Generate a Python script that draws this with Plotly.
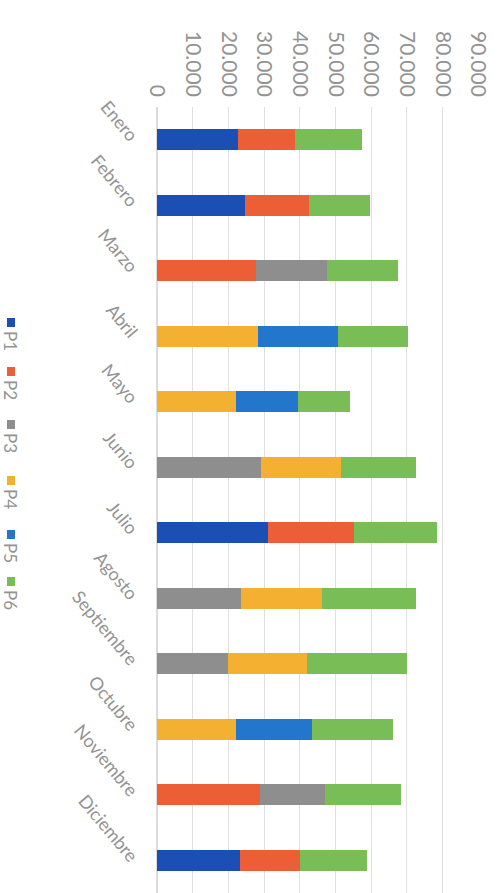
import plotly.graph_objects as go

months = ["Enero", "Febrero", "Marzo", "Abril", "Mayo", "Junio", "Julio",
          "Agosto", "Septiembre", "Octubre", "Noviembre", "Diciembre"]
series_names = ["P1", "P2", "P3", "P4", "P5", "P6"]
P1 = [22800, 24700, 0, 0, 0, 0, 31200, 0, 0, 0, 0, 23300]
P2 = [16000, 18000, 27800, 0, 0, 0, 24100, 0, 0, 0, 28900, 16900]
P3 = [0, 0, 19900, 0, 0, 29200, 0, 23600, 19900, 0, 18300, 0]
P4 = [0, 0, 0, 28400, 22200, 22500, 0, 22700, 22200, 22200, 0, 0]
P5 = [0, 0, 0, 22400, 17400, 0, 0, 0, 0, 21300, 0, 0]
P6 = [18800, 17100, 19900, 19700, 14600, 20800, 23300, 26200, 28100, 22800, 21300, 18800]
colors = ["#1b4fb3", "#ec5f36", "#8e8e8e", "#f4b131", "#2277cc", "#78bd55"]
x_ticks = [0, 10000, 20000, 30000, 40000, 50000, 60000, 70000, 80000, 90000]

values = [P1, P2, P3, P4, P5, P6]
fig = go.Figure()
for name, vals, col in zip(series_names, values, colors):
    fig.add_trace(go.Bar(y=months, x=vals, name=name, orientation="h",
                         marker=dict(color=col, line=dict(width=0)),
                         showlegend=False))

font_fam = "Lato, 'Open Sans', sans-serif"
fig.update_layout(
    width=500, height=893,
    margin=dict(l=157, r=22, t=107, b=0),
    barmode="stack", bargap=0.68,
    plot_bgcolor="white", paper_bgcolor="white",
    separators=",.",
    font=dict(family=font_fam, color="#939393"),
    xaxis=dict(side="top", range=[0, 90000], tickvals=x_ticks,
               tickformat=",d", tickangle=90, automargin=False,
               tickfont=dict(size=21, color="#939393"),
               showgrid=True, gridcolor="#e0e0e0", gridwidth=1,
               zeroline=True, zerolinecolor="#dcdcdc", showline=False,
               ticks="", ticklabelstandoff=6),
    yaxis=dict(autorange="reversed", tickangle=50, automargin=False,
               tickfont=dict(size=18, color="#939393"),
               showgrid=False, showline=False, zeroline=False,
               ticks="", ticklabelstandoff=20),
)

# rotated legend on the left
legend_y = [318, 367, 420, 476, 530, 577]
for name, col, yp in zip(series_names, colors, legend_y):
    fig.add_shape(type="rect", xref="paper", yref="paper",
                  x0=(7 - 157) / 321, x1=(15 - 157) / 321,
                  y0=(893 - yp - 9) / 786, y1=(893 - yp) / 786,
                  fillcolor=col, line=dict(width=0))
    fig.add_annotation(text=name, xref="paper", yref="paper",
                       x=(11 - 157) / 321, y=(893 - yp - 11) / 786,
                       xanchor="center", yanchor="top", textangle=90,
                       showarrow=False,
                       font=dict(size=17, color="#939393", family=font_fam))

fig.write_html("out.html", config={"displayModeBar": False},
               post_script="document.body.style.margin='0';document.body.style.overflow='hidden';")
